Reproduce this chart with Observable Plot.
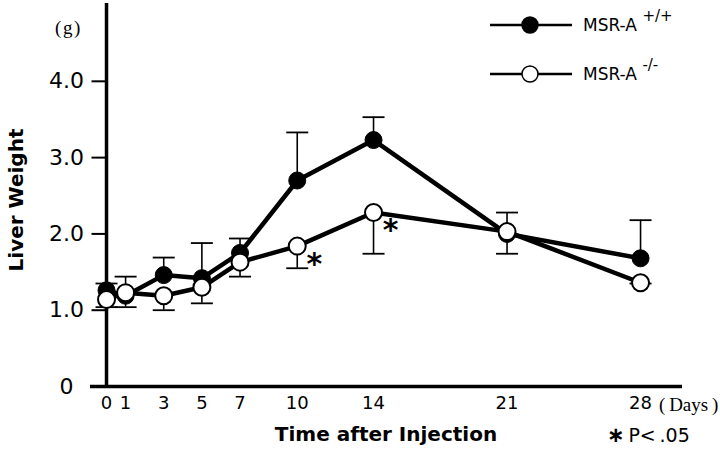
<!DOCTYPE html>
<html>
<head>
<meta charset="utf-8">
<script src="https://cdn.jsdelivr.net/npm/d3@7"></script>
<script src="https://cdn.jsdelivr.net/npm/@observablehq/plot@0.6"></script>
<style>
  body { margin: 0; background: #fff; }
  #wrap { position: relative; width: 720px; height: 454px; overflow: hidden; font-family: "DejaVu Sans", sans-serif; color: #000; }
  #wrap svg { position: absolute; left: 0; top: 0; }
  .ov { position: absolute; white-space: nowrap; line-height: 1; }
  .serif { font-family: "Liberation Serif", "DejaVu Serif", serif; }
</style>
</head>
<body>
<div id="wrap"></div>
<script>
// ---- data ----
const days = [0, 1, 3, 5, 7, 10, 14, 21, 28];
const wildType = [1.26, 1.19, 1.46, 1.42, 1.75, 2.70, 3.23, 2.00, 1.68];   // MSR-A +/+
const knockout = [1.14, 1.23, 1.19, 1.30, 1.63, 1.84, 2.28, 2.03, 1.36];   // MSR-A -/-
const wildTypeErrEnd = [1.35, 1.04, 1.69, 1.88, 1.94, 3.33, 3.53, 1.74, 2.18];
const knockoutErrEnd = [1.04, 1.44, 1.00, 1.09, 1.44, 1.55, 1.74, 2.28, 1.35];
const significantDays = [10, 14];
const yTicks = [0, 1, 2, 3, 4];
const yTickLabels = ["0", "1.0", "2.0", "3.0", "4.0"];
const seriesNames = ["MSR-A", "MSR-A"];
const seriesSup = ["+/+", "-/-"];

const wt = days.map((d, i) => ({day: d, v: wildType[i], e: wildTypeErrEnd[i]}));
const ko = days.map((d, i) => ({day: d, v: knockout[i], e: knockoutErrEnd[i]}));
const sig = ko.filter(d => significantDays.includes(d.day));

const hline = {draw(ctx, size) { const r = Math.sqrt(size / Math.PI); ctx.moveTo(-r, 0); ctx.lineTo(r, 0); }};

const chart = Plot.plot({
  width: 720,
  height: 454,
  marginTop: 3,
  marginBottom: 68,
  marginLeft: 90,
  marginRight: 38,
  style: {fontFamily: "DejaVu Sans, sans-serif", color: "#000", background: "transparent"},
  x: {domain: [-0.84, 30.2], axis: null},
  y: {domain: [0, 5.02], axis: null},
  marks: [
    Plot.axisX({ticks: days, tickSize: 0, tickPadding: 10, fontSize: 18, label: null, tickFormat: d => String(d)}),
    // error bars
    Plot.ruleX(wt, {x: "day", y1: "v", y2: "e", stroke: "#000", strokeWidth: 1.6}),
    Plot.ruleX(ko, {x: "day", y1: "v", y2: "e", stroke: "#000", strokeWidth: 1.6}),
    Plot.dot(wt, {x: "day", y: "e", symbol: hline, r: 11, stroke: "#000", strokeWidth: 1.8}),
    Plot.dot(ko, {x: "day", y: "e", symbol: hline, r: 11, stroke: "#000", strokeWidth: 1.8}),
    // axes lines
    Plot.ruleY([0], {stroke: "#000", strokeWidth: 3.5}),
    Plot.ruleX([0], {stroke: "#000", strokeWidth: 3.5}),
    Plot.dot(yTicks.slice(1), {x: 0, y: d => d, symbol: hline, r: 7, dx: -8, stroke: "#000", strokeWidth: 2}),
    Plot.text(yTicks, {x: 0, y: d => d, text: (d, i) => yTickLabels[i], dx: -40, textAnchor: "middle", fontSize: 22}),
    // series
    Plot.line(wt, {x: "day", y: "v", stroke: "#000", strokeWidth: 4.5}),
    Plot.line(ko, {x: "day", y: "v", stroke: "#000", strokeWidth: 4.5}),
    Plot.dot(wt, {x: "day", y: "v", r: 8.5, fill: "#000", stroke: "#000", strokeWidth: 1}),
    Plot.dot(ko, {x: "day", y: "v", r: 8.5, fill: "#fff", stroke: "#000", strokeWidth: 2}),
    Plot.text(sig, {x: "day", y: "v", text: () => "*", dx: 17, dy: 18, fontSize: 30, fontWeight: "bold"})
  ]
});
const wrap = document.getElementById("wrap");
wrap.appendChild(chart);

// legend
const ns = "http://www.w3.org/2000/svg";
const legend = document.createElementNS(ns, "svg");
legend.setAttribute("width", 720); legend.setAttribute("height", 100);
[{y: 25, fill: "#000"}, {y: 74, fill: "#fff"}].forEach((s, i) => {
  const l = document.createElementNS(ns, "line");
  l.setAttribute("x1", 490); l.setAttribute("x2", 572); l.setAttribute("y1", s.y); l.setAttribute("y2", s.y);
  l.setAttribute("stroke", "#000"); l.setAttribute("stroke-width", 2.6);
  legend.appendChild(l);
  const c = document.createElementNS(ns, "circle");
  c.setAttribute("cx", 530); c.setAttribute("cy", s.y); c.setAttribute("r", 8);
  c.setAttribute("fill", s.fill); c.setAttribute("stroke", "#000"); c.setAttribute("stroke-width", 1.5);
  legend.appendChild(c);
  const t = document.createElementNS(ns, "text");
  t.setAttribute("x", 583); t.setAttribute("y", s.y + 6);
  t.setAttribute("font-family", "DejaVu Sans, sans-serif"); t.setAttribute("font-size", 17);
  t.textContent = seriesNames[i] + " ";
  const sup = document.createElementNS(ns, "tspan");
  sup.setAttribute("dy", -10); sup.setAttribute("font-size", 15);
  sup.textContent = seriesSup[i];
  t.appendChild(sup);
  legend.appendChild(t);
});
wrap.appendChild(legend);

function ov(html, css, cls) {
  const d = document.createElement("div");
  d.className = "ov" + (cls ? " " + cls : "");
  d.innerHTML = html;
  Object.assign(d.style, css);
  wrap.appendChild(d);
  return d;
}
ov("(&hairsp;g&hairsp;)", {left: "55px", top: "18px", fontSize: "19px"}, "serif");
ov("Liver Weight", {left: "16px", top: "200px", fontSize: "20px", fontWeight: "bold", transform: "translate(-50%,-50%) rotate(-90deg)"});
ov("Time after Injection", {left: "386px", top: "434px", fontSize: "20px", fontWeight: "bold", transform: "translate(-50%,-50%)"});
ov("(&thinsp;Days&thinsp;)", {left: "659px", top: "395px", fontSize: "19px"}, "serif");
ov("<span style='font-size:21px;font-weight:bold'>\u2217</span>&thinsp;P&lt;&thinsp;.05", {left: "607px", top: "425px", fontSize: "19px"});
</script>
</body>
</html>
